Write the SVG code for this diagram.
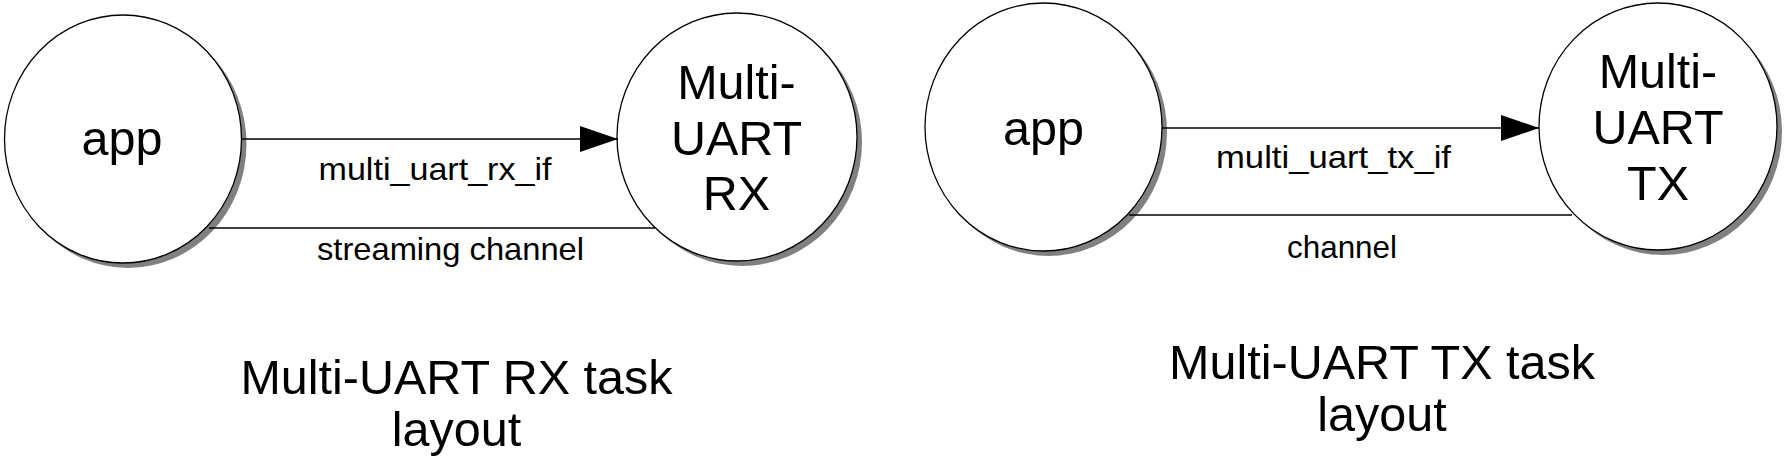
<svg xmlns="http://www.w3.org/2000/svg" width="1784" height="463" viewBox="0 0 1784 463">
<style>
.shadow{fill:#808080;stroke:none}
.node{fill:#fff;stroke:#000;stroke-width:1.3}
.big{font-family:"Liberation Sans",Arial,sans-serif;font-size:48.5px;fill:#000;text-anchor:middle}
.lbl{font-family:"Liberation Sans",Arial,sans-serif;font-size:32px;fill:#000;text-anchor:middle}
.conn{stroke:#000;stroke-width:1.3;fill:none}
</style>
<defs>
<marker id="arr" markerUnits="userSpaceOnUse" markerWidth="38" markerHeight="26" refX="38" refY="13" orient="auto">
<path d="M0,0 L38,13 L0,26 Z" fill="#000"/>
</marker>
</defs>
<rect width="1784" height="463" fill="#fff"/>
<g id="rx-app">
<ellipse class="shadow" cx="128" cy="144" rx="118.5" ry="124"/>
<ellipse class="node" cx="123" cy="139" rx="118.5" ry="124"/>
<text class="big" x="122" y="155">app</text>
</g>
<g id="rx-multi-uart">
<ellipse class="shadow" cx="742" cy="142" rx="120" ry="124"/>
<ellipse class="node" cx="737" cy="137" rx="120" ry="124"/>
<text class="big" x="736.5" y="99">Multi-</text>
<text class="big" x="736.5" y="155">UART</text>
<text class="big" x="736.5" y="210">RX</text>
</g>
<g id="tx-app">
<ellipse class="shadow" cx="1048.5" cy="132" rx="118.5" ry="124"/>
<ellipse class="node" cx="1043.5" cy="127" rx="118.5" ry="124"/>
<text class="big" x="1043.5" y="145">app</text>
</g>
<g id="tx-multi-uart">
<ellipse class="shadow" cx="1663" cy="131.5" rx="119" ry="123.5"/>
<ellipse class="node" cx="1658" cy="126.5" rx="119" ry="123.5"/>
<text class="big" x="1658" y="88">Multi-</text>
<text class="big" x="1658" y="144">UART</text>
<text class="big" x="1658" y="200">TX</text>
</g>
<g id="connectors">
<line class="conn" x1="242" y1="139" x2="618" y2="139" marker-end="url(#arr)"/>
<line class="conn" x1="209" y1="228" x2="655" y2="228"/>
<line class="conn" x1="1162" y1="128" x2="1539" y2="128" marker-end="url(#arr)"/>
<line class="conn" x1="1129" y1="215" x2="1572" y2="215"/>
<text class="lbl" x="435" y="180" textLength="233" lengthAdjust="spacingAndGlyphs">multi_uart_rx_if</text>
<text class="lbl" x="450.5" y="260" textLength="267" lengthAdjust="spacingAndGlyphs">streaming channel</text>
<text class="lbl" x="1333.5" y="168" textLength="235" lengthAdjust="spacingAndGlyphs">multi_uart_tx_if</text>
<text class="lbl" x="1342" y="258" textLength="110" lengthAdjust="spacingAndGlyphs">channel</text>
</g>
<g id="captions">
<text class="big" x="456.5" y="394">Multi-UART RX task</text>
<text class="big" x="456.5" y="446">layout</text>
<text class="big" x="1382" y="379">Multi-UART TX task</text>
<text class="big" x="1382" y="431">layout</text>
</g>
</svg>
